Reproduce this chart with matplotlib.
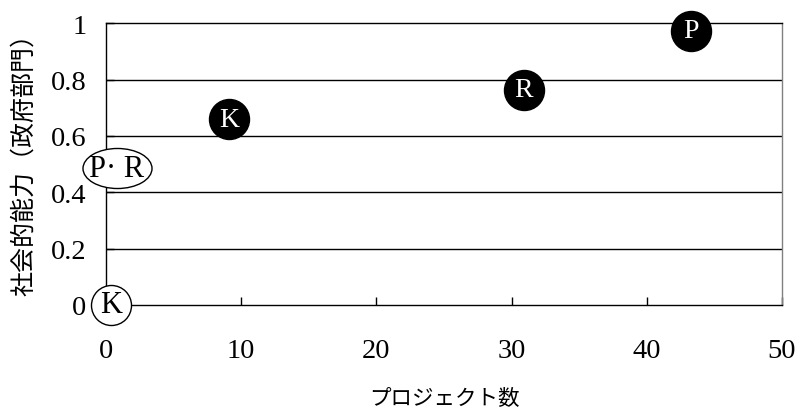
import matplotlib.pyplot as plt
from matplotlib.markers import MarkerStyle
from matplotlib.path import Path
from matplotlib.transforms import Affine2D

# プロジェクト数 vs 社会的能力（政府部門）
labels_active = ["K", "R", "P"]
projects_active = [9.1, 30.9, 43.3]
capacity_active = [0.66, 0.764, 0.974]

labels_zero = ["K"]
projects_zero = [0.4]
capacity_zero = [0.0]

labels_pair = ["P\u00b7 R"]
projects_pair = [0.8]
capacity_pair = [0.485]

xticks = [0, 10, 20, 30, 40, 50]
yticks = [0, 0.2, 0.4, 0.6, 0.8, 1]
ytick_labels = ["0", "0.2", "0.4", "0.6", "0.8", "1"]

serif = "Liberation Serif"
jp = ["Noto Sans CJK JP", "DejaVu Sans"]

fig = plt.figure(figsize=(7.98, 4.10), dpi=100)
ax = fig.add_axes([0.1328, 0.2537, 0.8472, 0.687])

ax.set_xlim(0, 50)
ax.set_ylim(0, 1)
ax.set_xticks(xticks)
ax.set_yticks(yticks)
ax.set_yticklabels(ytick_labels)
for lab in ax.get_xticklabels() + ax.get_yticklabels():
    lab.set_fontfamily(serif)
    lab.set_fontsize(20.5)
ax.tick_params(axis="x", direction="in", length=6, width=1, pad=24)
ax.tick_params(axis="y", direction="in", length=6, width=1, pad=14)

for y in yticks[1:-1]:
    ax.axhline(y, color="black", lw=1, zorder=1)
for side in ["left", "bottom", "top"]:
    ax.spines[side].set_color("black")
    ax.spines[side].set_linewidth(1)
ax.spines["right"].set_color("#808080")
ax.spines["right"].set_linewidth(1)

# filled circles
ax.scatter(projects_active, capacity_active, s=830, c="black", zorder=3, clip_on=False)
for x, y, t in zip(projects_active, capacity_active, labels_active):
    ax.text(x, y, t, color="white", fontsize=20, family=serif,
            ha="center", va="center", zorder=4)

# open circle
ax.scatter(projects_zero, capacity_zero, s=830, facecolors="white", edgecolors="black",
           linewidths=1, zorder=3, clip_on=False)
for x, y, t in zip(projects_zero, capacity_zero, labels_zero):
    ax.text(x, y, t, color="black", fontsize=22, family=serif,
            ha="center", va="center", zorder=4)

# open ellipse
ellipse = MarkerStyle(Path.unit_circle().transformed(Affine2D().scale(1.0, 0.58)))
ax.scatter(projects_pair, capacity_pair, s=2470, marker=ellipse, facecolors="white",
           edgecolors="black", linewidths=1, zorder=3, clip_on=False)
for x, y, t in zip(projects_pair, capacity_pair, labels_pair):
    ax.text(x, y, t, color="black", fontsize=22, family=serif,
            ha="center", va="center", zorder=4)

ax.set_xlabel("プロジェクト数", family=jp, fontsize=15.5, labelpad=17)
ax.set_ylabel("社会的能力（政府部門）", family=jp, fontsize=18)
ax.yaxis.set_label_coords(-0.102, 0.525)

fig.savefig("out.png", dpi=100)
